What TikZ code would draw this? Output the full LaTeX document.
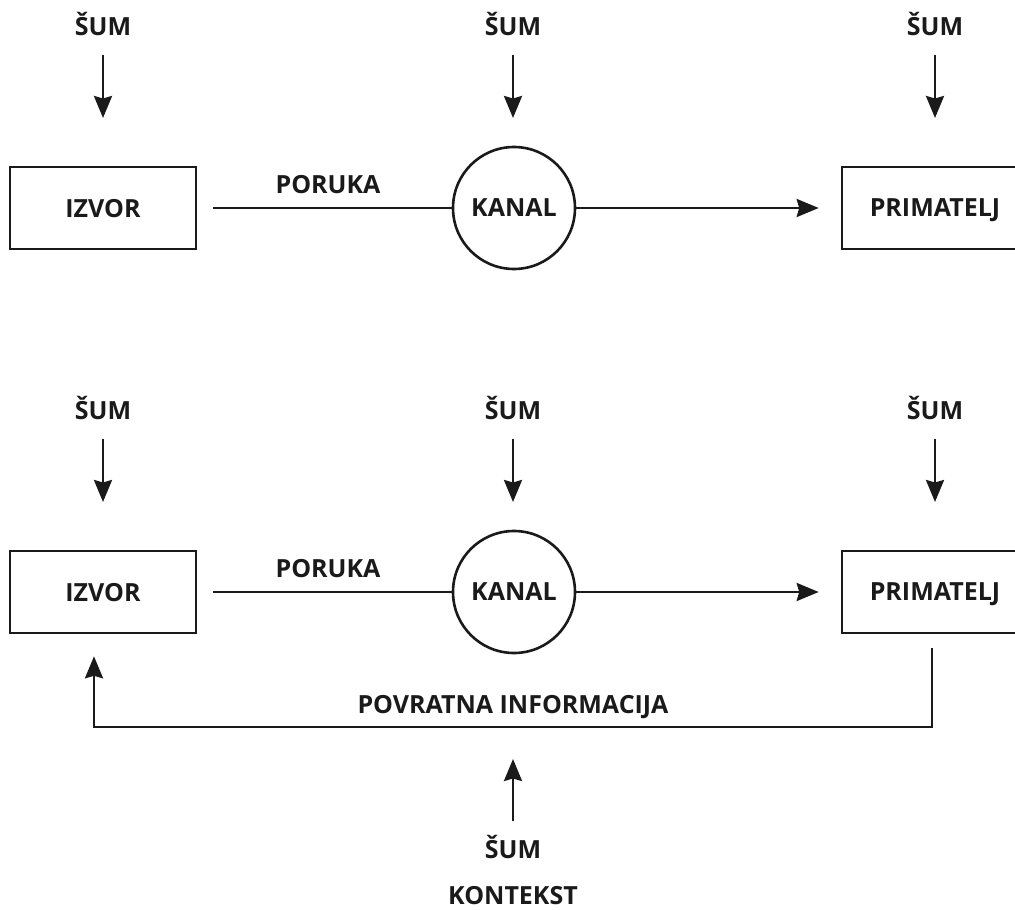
\documentclass[tikz,border=0pt]{standalone}
\usepackage{fontspec}
\setmainfont{Open Sans}
\usetikzlibrary{positioning,arrows.meta}
\newcommand\lblfont{\bfseries\fontsize{25}{30}\selectfont}
\definecolor{ink}{HTML}{1A1A1A}
\tikzset{
  box/.style={draw, line width=2.6pt, minimum width=186pt, minimum height=82pt, inner sep=0pt, text depth=0pt},
  kanal/.style={draw, circle, line width=2.6pt, minimum size=122pt, inner sep=0pt, text depth=0pt},
  lbl/.style={inner sep=0pt, anchor=base},
  flow/.style={line width=2.5pt},
  noise/.style={line width=2.5pt, -{Stealth[length=22pt, width=18pt, inset=2.5pt]}}
}
\begin{document}
\begin{tikzpicture}[x=1pt,y=-1pt,ink,every node/.style={font=\lblfont,text=ink}]
	%% page frame
	\useasboundingbox (0,0) rectangle (1015,910);

	% two rows: upper and lower
	\foreach \r/\y in {A/208, B/592}{
		\node[box] (izvor\r) at (103,\y) {IZVOR};
		\node[kanal] (kanal\r) at (514,\y) {KANAL};
		\node[box] (primatelj\r) at (935,\y) {PRIMATELJ};
		\node[lbl] (poruka\r) at (328,\y-15) {PORUKA};

		\draw[flow] ([xshift=16pt]izvor\r.east) -- (kanal\r);
		\draw[noise] (kanal\r) -- ([xshift=-22pt]primatelj\r.west);

		% noise from above
		\foreach \i/\x in {1/103, 2/513, 3/935}{
			\node[lbl] (sum\r\i) at (\x,\y-173) {ŠUM};
			\coordinate (hit\r\i) at (\x,\y-90);
			\draw[noise] ([yshift=-20pt]sum\r\i.base) -- (hit\r\i);
		}
	}

	% feedback loop
	\coordinate (fbBase) at (513,727);
	\draw[noise] ([xshift=-3pt,yshift=-14pt]primateljB.south) |- (fbBase) -| ([xshift=-9pt,yshift=-22pt]izvorB.south);
	\node[lbl] (povratna) at (513,713) {POVRATNA INFORMACIJA};

	% noise from below and context
	\node[lbl] (sumC) at (513,858) {ŠUM};
	\coordinate (hitC) at (513,759);
	\draw[noise] ([yshift=37pt]sumC.base) -- (hitC);
	\node[lbl] (kontekst) at (513,904) {KONTEKST};
\end{tikzpicture}
\end{document}
